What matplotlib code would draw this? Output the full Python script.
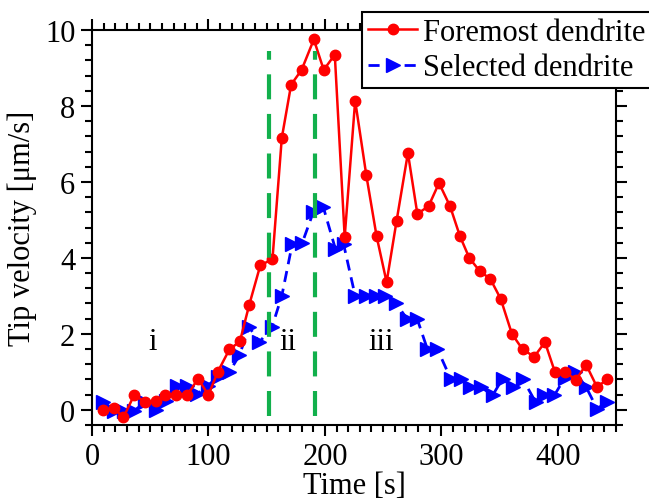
import matplotlib
matplotlib.use("Agg")
import matplotlib.pyplot as plt
from matplotlib.ticker import MultipleLocator

plt.rcParams['font.family'] = ['Liberation Serif', 'DejaVu Serif']

# Foremost dendrite
t_fore = [9.7, 18.5, 27, 36.4, 45.5, 55, 63, 72, 82, 91, 100, 108, 118, 127, 135,
          144.5, 155, 163, 171, 180, 190.5, 199, 208.5, 217, 226, 235.6, 244.4,
          253, 261.6, 271.3, 279.4, 289, 298, 307.5, 316, 324, 333, 342, 351,
          360.6, 369.8, 379.8, 389, 397.6, 406.5, 415.7, 424.3, 433.7, 442.3]
v_fore = [0.0, 0.05, -0.2, 0.4, 0.2, 0.22, 0.4, 0.38, 0.39, 0.82, 0.39, 1.0, 1.59, 1.8, 2.76,
          3.8, 3.97, 7.16, 8.56, 8.95, 9.75, 8.95, 9.35, 4.55, 8.14, 6.17, 4.57,
          3.36, 4.98, 6.76, 5.16, 5.36, 5.97, 5.36, 4.57, 4.0, 3.65, 3.45, 2.92,
          2.0, 1.59, 1.4, 1.78, 0.99, 0.99, 0.79, 1.19, 0.6, 0.8]

# Selected dendrite
t_sel = [9.7, 19, 27.8, 36.4, 45.6, 54.8, 63.7, 72.9, 81.5, 90.6, 99.5, 108, 118, 126.5,
         135, 143.7, 154.6, 163, 172, 180.5, 190, 198.5, 209, 216, 226, 235, 243.5,
         252, 260.8, 270.8, 279.4, 288, 296.6, 308, 316.7, 324.7, 334, 344, 352.6,
         361.2, 369.8, 381, 388.4, 397, 406, 415, 424.3, 433.7, 442.3]
v_sel = [0.2, -0.02, -0.03, -0.02, 0.2, 0.0, 0.22, 0.62, 0.62, 0.42, 0.64, 0.86, 1.0, 1.43,
         2.18, 1.78, 2.18, 3.0, 4.37, 4.39, 5.2, 5.35, 4.24, 4.37, 3.0, 3.0, 3.0,
         3.0, 2.82, 2.38, 2.38, 1.6, 1.6, 0.82, 0.82, 0.6, 0.6, 0.38, 0.82,
         0.6, 0.82, 0.2, 0.38, 0.38, 0.84, 0.99, 0.6, 0.03, 0.2]

stage_lines = [152, 191.5]
stage_labels = ["i", "ii", "iii"]
stage_label_t = [52.5, 168.5, 248]
stage_label_v = 1.8

fig = plt.figure(figsize=(6.49, 5.02), dpi=100)
ax = fig.add_axes([92/649, 1-426/502, (616-92)/649, (426-31)/502])

fs = 22
ax.plot(t_fore, v_fore, '-', color='#ff0000', lw=1.8, marker='o', ms=7.5,
        label='Foremost dendrite', zorder=3)
ax.plot(t_sel, v_sel, '--', color='#0000ff', lw=2.0, marker='>', ms=10,
        dashes=(4, 2.5), label='Selected dendrite', zorder=2)
for x in stage_lines:
    ax.plot([x, x], [-0.15, 9.45], color='#12b04c', lw=3, dashes=(6, 3.5), zorder=4)

for tx, lab in zip(stage_label_t, stage_labels):
    ax.text(tx, stage_label_v, lab, fontsize=fs, ha='center', va='center')

ax.set_xlim(0, 450)
ax.set_ylim(-0.4, 10)
ax.xaxis.set_major_locator(MultipleLocator(100))
ax.xaxis.set_minor_locator(MultipleLocator(10))
ax.yaxis.set_major_locator(MultipleLocator(2))
ax.yaxis.set_minor_locator(MultipleLocator(0.4))
ax.tick_params(which='both', direction='out', top=True, right=True, width=1.5,
               labelsize=fs, pad=4)
ax.tick_params(which='major', length=8)
ax.tick_params(which='minor', length=5)
for s in ax.spines.values():
    s.set_linewidth(1.5)

ax.set_xlabel('Time [s]', fontsize=fs, labelpad=0)
ax.set_ylabel('Tip velocity [μm/s]', fontsize=fs, labelpad=6)

leg = fig.legend(loc='upper left', bbox_to_anchor=(362/649, 1-13/502),
                 fontsize=fs, frameon=True, fancybox=False, edgecolor='black',
                 framealpha=1, numpoints=1, handlelength=1.6, handletextpad=0.2,
                 borderpad=0.2, labelspacing=0.2, borderaxespad=0)
leg.get_frame().set_linewidth(1.5)

fig.savefig('out.png', dpi=100)
